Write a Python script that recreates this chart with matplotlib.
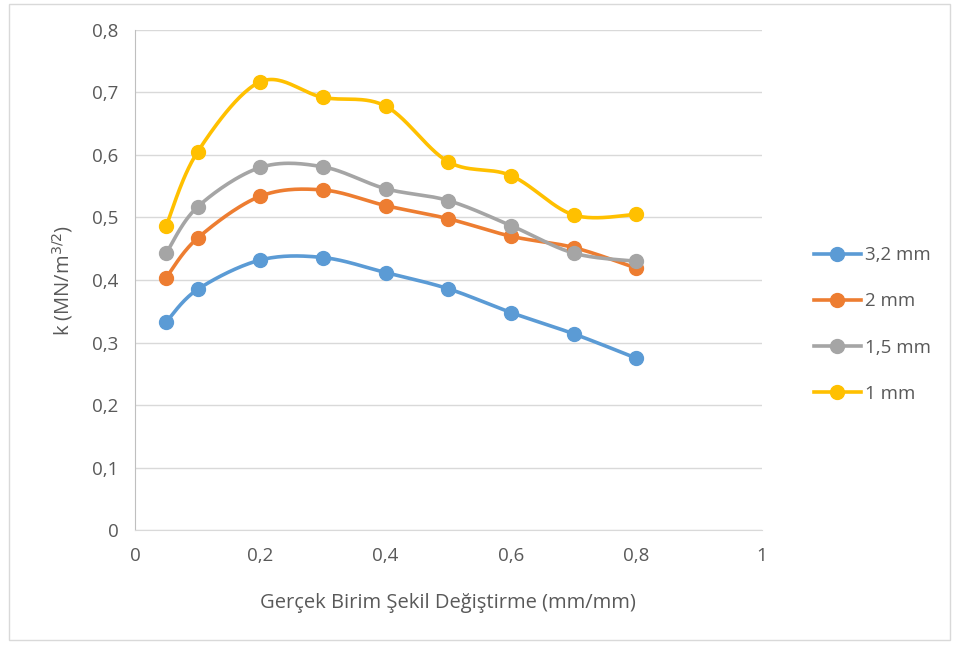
import numpy as np
import matplotlib
matplotlib.use("Agg")
import matplotlib.pyplot as plt
from matplotlib.lines import Line2D

x = [0.05, 0.1, 0.2, 0.3, 0.4, 0.5, 0.6, 0.7, 0.8]
s32 = [0.333, 0.385, 0.432, 0.436, 0.412, 0.386, 0.348, 0.314, 0.275]
s2 = [0.404, 0.467, 0.534, 0.544, 0.519, 0.498, 0.470, 0.452, 0.419]
s15 = [0.443, 0.517, 0.580, 0.581, 0.546, 0.527, 0.487, 0.443, 0.430]
s1 = [0.487, 0.605, 0.717, 0.692, 0.678, 0.589, 0.567, 0.504, 0.505]
labels = ["3,2 mm", "2 mm", "1,5 mm", "1 mm"]
colors = ["#5b9bd5", "#ed7d31", "#a5a5a5", "#ffc000"]
xticks = [0, 0.2, 0.4, 0.6, 0.8, 1]
yticks = [0, 0.1, 0.2, 0.3, 0.4, 0.5, 0.6, 0.7, 0.8]

plt.rcParams['font.family'] = ['Open Sans', 'DejaVu Sans']


def smooth(xs, ys, n=30):
    P = np.column_stack([xs, ys]).astype(float)
    out = [P[0]]
    m = len(P)
    for i in range(m - 1):
        p0 = P[i - 1] if i > 0 else P[i]
        p1 = P[i]
        p2 = P[i + 1]
        p3 = P[i + 2] if i + 2 < m else P[i + 1]
        c1 = p1 + (p2 - p0) / 6.0
        c2 = p2 - (p3 - p1) / 6.0
        t = np.linspace(0, 1, n)[1:, None]
        b = ((1 - t) ** 3) * p1 + 3 * ((1 - t) ** 2) * t * c1 + 3 * (1 - t) * t ** 2 * c2 + t ** 3 * p2
        out.extend(b)
    out = np.array(out)
    return out[:, 0], out[:, 1]


fig = plt.figure(figsize=(9.57, 6.49), dpi=100)
fig.patches.append(plt.Rectangle((0.009, 0.014), 0.984, 0.98, transform=fig.transFigure,
                                 fill=False, edgecolor="#d9d9d9", linewidth=1))
ax = fig.add_axes([0.141, 0.183, 0.655, 0.771])

for ys, lab, c in zip([s32, s2, s15, s1], labels, colors):
    sx, sy = smooth(x, ys)
    ax.plot(sx, sy, color=c, linewidth=2.6, solid_capstyle="round", zorder=3)
    ax.plot(x, ys, linestyle="none", marker="o", markersize=10, color=c, zorder=4)

ax.set_xlim(0, 1)
ax.set_ylim(0, 0.8)
ax.set_xticks(xticks)
ax.set_yticks(yticks)
ax.set_xticklabels([("%g" % v).replace(".", ",") for v in xticks])
ax.set_yticklabels([("%g" % v).replace(".", ",") for v in yticks])
ax.grid(axis="y", color="#d9d9d9", linewidth=1)
ax.set_axisbelow(True)
for sp in ["top", "right"]:
    ax.spines[sp].set_visible(False)
ax.spines["left"].set_color("#bfbfbf")
ax.spines["bottom"].set_color("#d9d9d9")
ax.tick_params(axis="x", length=0, labelsize=13.5, labelcolor="#595959", pad=12)
ax.tick_params(axis="y", length=0, labelsize=13.5, labelcolor="#595959", pad=12)
ax.set_xlabel("Gerçek Birim Şekil Değiştirme (mm/mm)", fontsize=14.5, color="#595959", labelpad=20)
ax.set_ylabel("k (MN/m$^{3/2}$)", fontsize=14.5, color="#595959", labelpad=12)

handles = [Line2D([0], [0], color=c, linewidth=2.6, marker="o", markersize=10) for c in colors]
leg = fig.legend(handles, labels, loc="center left", bbox_to_anchor=(0.833, 0.5), frameon=False,
                 fontsize=13.5, labelspacing=1.5, handlelength=2.5, handletextpad=0.2)
for t in leg.get_texts():
    t.set_color("#595959")

fig.savefig("out.png", dpi=100)
